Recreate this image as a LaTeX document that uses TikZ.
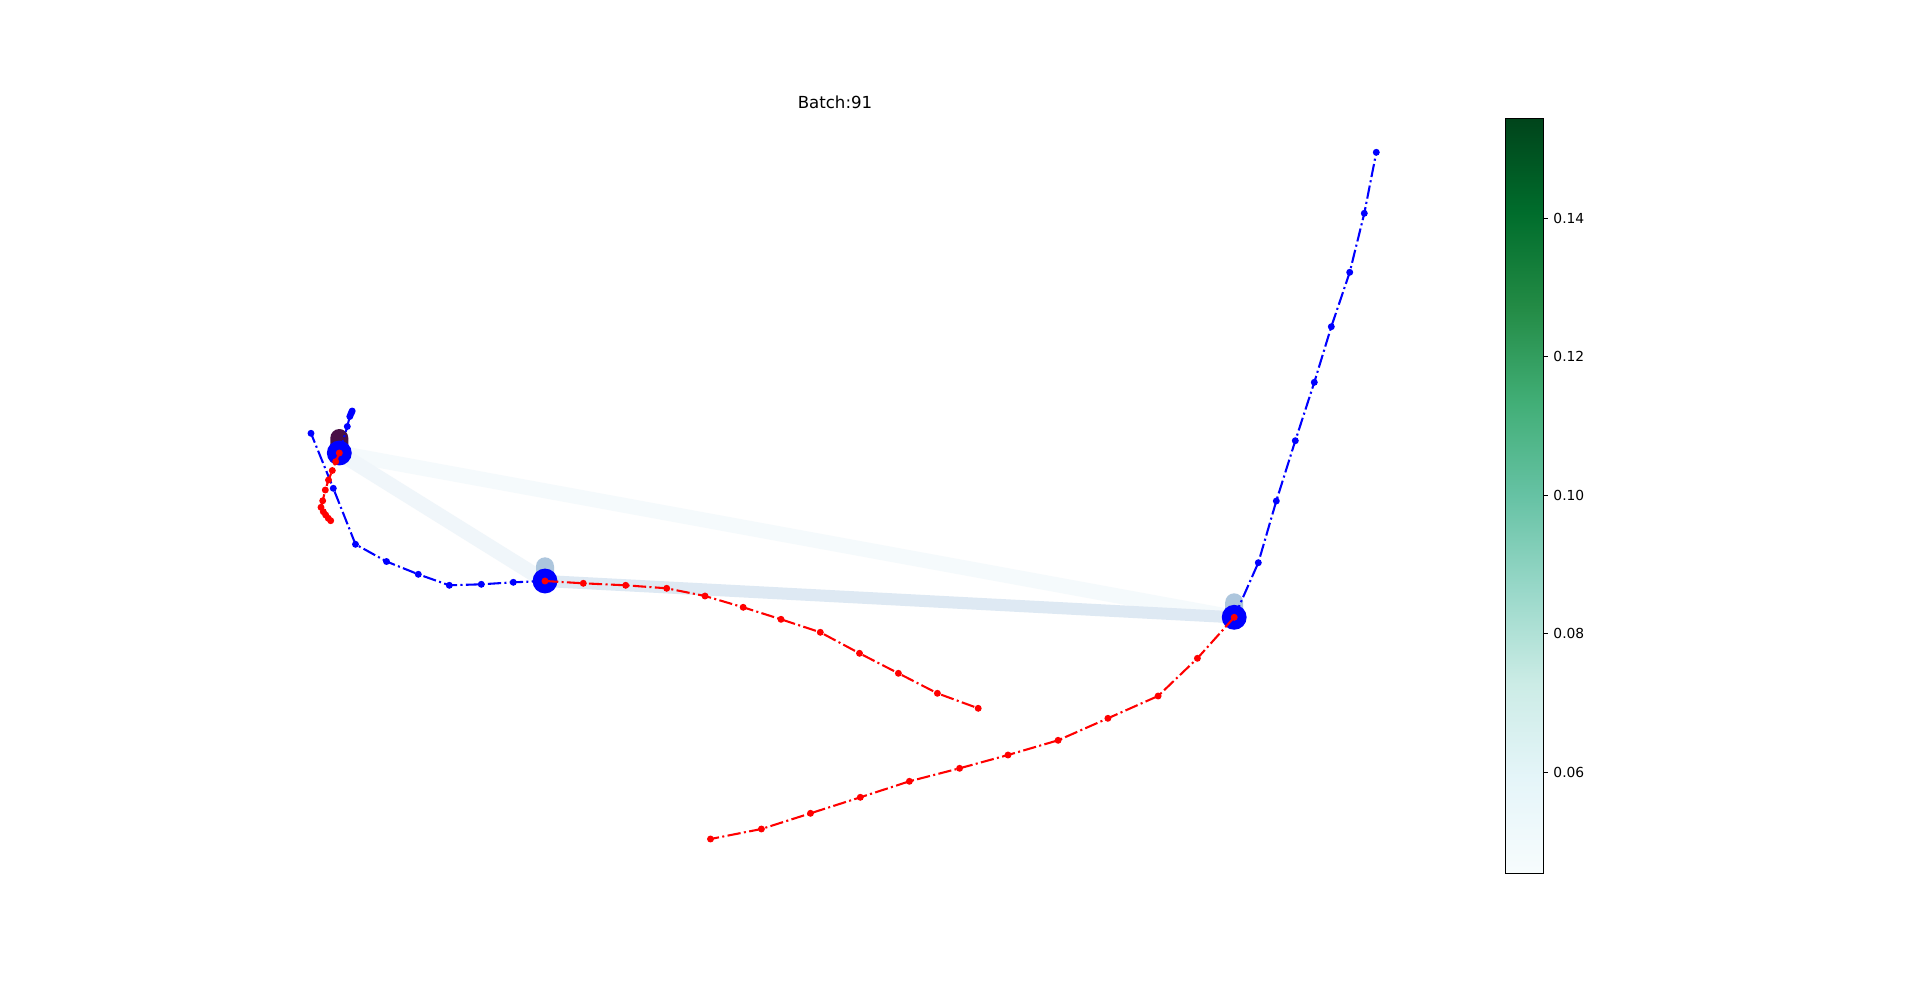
\documentclass[tikz,border=0pt]{standalone}
\usepackage{fontspec}
\setmainfont{DejaVu Sans}
\usetikzlibrary{calc}
\definecolor{bg0}{RGB}{247,252,253}
\definecolor{bg1}{RGB}{229,245,249}
\definecolor{bg2}{RGB}{204,236,230}
\definecolor{bg3}{RGB}{153,216,201}
\definecolor{bg4}{RGB}{102,194,164}
\definecolor{bg5}{RGB}{65,174,118}
\definecolor{bg6}{RGB}{35,139,69}
\definecolor{bg7}{RGB}{0,109,44}
\definecolor{bg8}{RGB}{0,68,27}
\definecolor{edgeLM}{RGB}{240,246,250}
\definecolor{edgeLR}{RGB}{245,250,252}
\definecolor{edgeMR}{RGB}{222,233,243}
\definecolor{ghoststeel}{RGB}{173,198,221}
\definecolor{ghostplum}{RGB}{73,15,70}
\pgfdeclareverticalshading{bugn}{100bp}{color(0bp)=(bg0); color(25bp)=(bg0); color(31.25bp)=(bg1); color(37.5bp)=(bg2); color(43.75bp)=(bg3); color(50bp)=(bg4); color(56.25bp)=(bg5); color(62.5bp)=(bg6); color(68.75bp)=(bg7); color(75bp)=(bg8); color(100bp)=(bg8)}
\tikzset{
	traj/.style={line width=1.5pt, dash pattern=on 9.6pt off 2.4pt on 1.5pt off 2.4pt, mark=*, mark size=1.7pt, mark options={solid}},
	agent/.style={circle, fill=blue, minimum size=18pt, inner sep=0pt},
	ghost/.style={rounded corners=6.5pt}
}
\def\ghostat(#1)[#2]#3{\fill[ghost,#2] ($(#1)+(-9,-#3)$) rectangle ($(#1)+(9,0)$);}

\begin{document}
\begin{tikzpicture}[x=0.0254cm, y=-0.0254cm]
			%%%%% START %%%%%
			\useasboundingbox[fill=white] (0,0) rectangle (1920,981);
			
			\coordinate (left) at (339.3,453);
			\coordinate (mid) at (545,581);
			\coordinate (right) at (1234.2,617.3);
			
			\draw[line width=10.8pt, edgeLR] (left) -- (right);
			\draw[line width=10.8pt, edgeLM] (left) -- (mid);
			\draw[line width=8.7pt, edgeMR] (mid) -- (right);
			
			\ghostat(left)[ghostplum]{24}
			\ghostat(mid)[ghoststeel]{23.7}
			\ghostat(right)[ghoststeel]{24}
			
			\node[agent] (leftagent) at (left) {};
			\node[agent] (midagent) at (mid) {};
			\node[agent] (rightagent) at (right) {};
			
			% past
			\draw[traj, blue] plot coordinates {(mid) (513.3,582.3) (481.3,584.3) (449.3,585.3) (418.3,574.3) (386.5,561.5) (355.5,544.3) (333.3,488.3) (311,433.3)};
			\draw[traj, blue] plot coordinates {(left) (347.3,426.5) (349.8,416.5) (350.8,414) (351.6,412.3) (352.2,411)};
			\draw[traj, blue] plot coordinates {(right) (1258.3,562.7) (1276.3,501) (1295.3,440.7) (1314.3,382.3) (1331.3,326.7) (1349.7,272.3) (1364.3,213.3) (1376.3,152.3)};
			
			% future
			\draw[traj, red] plot coordinates {(left) (335.7,461.7) (332.3,470.5) (328.5,480) (325.3,490) (322.7,500.8) (321,507.3) (323.3,511.7) (325.7,515) (328.3,518.3) (330.7,520.7)};
			\draw[traj, red] plot coordinates {(mid) (583.3,583.3) (625.7,585.3) (666.7,588.3) (705,596) (743.2,607.3) (781,619.3) (820.3,632.3) (859.5,653.3) (898.4,673.3) (937.4,693.3) (978.2,708.3)};
			\draw[traj, red] plot coordinates {(right) (1197.4,658.3) (1158.1,696) (1107.9,718.3) (1058.1,740.3) (1008,755) (959.6,768.3) (909.4,781.3) (860.3,797.3) (810.5,813.3) (761.4,829) (710.5,839)};
			
			\node[font=\fontsize{12}{14}\selectfont, anchor=base] (title) at (835,108.3) {Batch:91};
			
			% colorbar
			\shade[shading=bugn] (1505.3,118.3) rectangle (1543.3,873.3);
			\draw[line width=0.8pt] (1505.3,118.3) rectangle (1543.3,873.3);
			\foreach \v/\yy in {0.06/772.3, 0.08/633.8, 0.10/495.3, 0.12/356.8, 0.14/218.3}{
				\draw[line width=0.8pt] (1543.3,\yy) -- ++(3.5pt,0);
				\node[font=\fontsize{10}{12}\selectfont, anchor=west, inner sep=0pt] (tick\v) at (1553.2,\yy) {\v};
			}
			%%%%% END %%%%%
\end{tikzpicture}
\end{document}
